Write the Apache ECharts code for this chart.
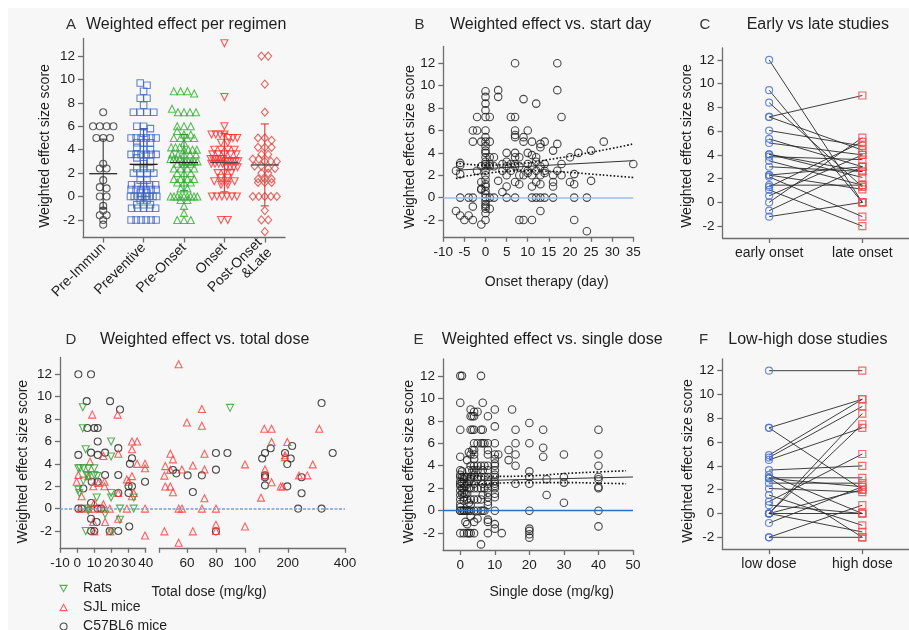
<!DOCTYPE html>
<html>
<head>
<meta charset="utf-8">
<script src="https://cdn.jsdelivr.net/npm/echarts@6/dist/echarts.min.js"></script>
<style>
  html, body { margin: 0; padding: 0; background: #fff; }
  #bg { position: absolute; left: 8px; top: 8px; width: 901px; height: 622px; background: #f7f7f7; }
  #chart { position: absolute; left: 0; top: 0; width: 909px; height: 630px; }
</style>
</head>
<body>
<div id="bg"></div>
<div id="chart"></div>
<script>
// ---- A: weighted effect per regimen ----
const regimenNames = ['Pre-Immun', 'Preventive', 'Pre-Onset', 'Onset', 'Post-Onset\n&Late'];
const preImmun = [7.2, 6, 6, 6, 6, 5, 5, 5, 2.8, 2.4, 2.4, 1.4, 0.8, 0.7, 0, 0, -0.8, -1.2, -1.6, -1.6, -2, -2.4];
const preventive = [9.7, 9.5, 9.0, 8.4, 8.4, 7.8, 7.2, 7.2, 7.2, 7.2, 6.0, 6.0, 5.8, 5.4,
  5.0, 5.0, 5.0, 5.0, 5.0, 5.0, 4.6, 4.6, 4.6, 4.2, 4.0, 4.0,
  3.6, 3.6, 3.6, 3.6, 3.6, 3.6, 3.3, 3.0, 3.0, 2.8, 2.4, 2.4, 2.4, 2.0, 2.0, 2.0, 2.0,
  1.4, 1.4, 1.0, 1.0, 1.0, 1.0, 1.0, 0.6, 0.6, 0.6, 0.6, 0.6, 0.6, 0.3, 0.3,
  0, 0, 0, 0, 0, 0, 0, 0, -0.3, -0.3, -0.7, -0.7, -0.7, -1.0, -1.0, -1.0, -1.0, -1.0,
  -2.0, -2.0, -2.0, -2.0, -2.0, -2.0];
const preOnset = [9.0, 9.0, 9.0, 8.8, 7.5, 7.2, 7.2, 7.2, 7.2, 6.0, 6.0, 6.0, 5.6, 5.3, 5.3,
  5.0, 5.0, 5.0, 5.0, 4.6, 4.2, 4.2, 4.2, 4.0, 4.0, 4.0, 4.0, 3.6, 3.6, 3.6, 3.6, 3.6,
  3.2, 3.2, 3.2, 3.2, 3.0, 3.0, 3.0, 3.0, 3.0, 3.0, 2.8, 2.8, 2.8, 2.4, 2.4, 2.4, 2.4,
  2.0, 2.0, 2.0, 1.5, 1.5, 1.5, 1.5, 1.2, 1.2, 1.2, 0.7, 0.7,
  0, 0, 0, 0, 0, 0, 0, 0, 0, -0.3, -0.3, -0.8, -1.4, -2, -2, -2];
const onset = [13.1, 8.5, 6.0, 5.3, 5.3, 5.3, 5.3, 5.0, 5.0, 5.0, 4.6, 4.6, 4.0, 4.0, 4.0, 4.0,
  3.6, 3.6, 3.6, 3.6, 3.6, 3.2, 3.2, 3.2, 3.2, 3.2, 3.2, 3.0, 3.0, 3.0, 3.0, 3.0, 3.0,
  2.8, 2.8, 2.8, 2.8, 2.5, 2.5, 2.5, 2.5, 2.0, 2.0, 2.0, 1.6, 1.6, 1.3, 1.3, 1.3, 1.3,
  1.0, 1.0, 0, 0, 0, 0, 0, 0, -2, -2];
const postOnset = [12, 12, 9.6, 7.2, 5.0, 5.0, 4.8, 4.2, 4.2, 4.2, 3.6, 3.6, 3.2, 3.2, 3.0, 3.0, 3.0,
  2.6, 2.6, 2.4, 2.4, 2.0, 2.0, 1.5, 1.5, 1.5, 1.2, 1.2, 1.2, 0, 0, 0, 0, 0, -1.2, -2, -2, -3];
const regimenMean = [1.95, 2.75, 2.9, 2.9, 2.7];
const regimenSd = [2.95, 3.05, 2.4, 2.5, 3.5];

// ---- B: weighted effect vs start day ----
const startDay = [
  [-7, 2.4], [-7, -1.2], [-6, 3.1], [-6, 2.9], [-6, 2.1], [-6, 0], [-6, -1.6], [-5, -2],
  [-4, 0], [-4, -1.6], [-3, 6], [-3, 5], [-3, 0], [-3, -0.8], [-3, -2], [-2, 7.2], [-2, 6], [-2, 2.4],
  [-1, 5], [-1, 2.8], [-1, 1.4], [-1, 0.8], [-1, 0.7], [-1, -2.4],
  [0, 9.5], [0, 9], [0, 8.4], [0, 7.8], [0, 7.2], [0, 6], [0, 5.4], [0, 5], [0, 4.6], [0, 4.2], [0, 4],
  [0, 3.6], [0, 3.2], [0, 3], [0, 2.8], [0, 2.4], [0, 2], [0, 1.6], [0, 1.2], [0, 1], [0, 0.6], [0, 0.3],
  [0, 0], [0, -0.3], [0, -0.6], [0, -0.8], [0, -1], [0, -1.4], [0, -2],
  [1, 7.2], [1, 5], [1, 3.6], [1, 3], [1, 2.8], [1, 0], [1, -1], [2, 3.6], [2, 2.8], [2, 0],
  [3, 9.6], [3, 9], [3, 1.5], [4, 3], [4, 2.4], [4, 0.5], [5, 4], [5, 3.2], [5, 2.8], [5, 2], [5, 1], [5, 0],
  [6, 7.2], [6, 3], [6, 2.4], [7, 12], [7, 7.2], [7, 6], [7, 5.6], [7, 5.4], [7, 4], [7, 3.6], [7, 3],
  [7, 2.8], [7, 1.4], [7, 0], [8, 3.6], [8, 2.8], [8, 2], [8, 1.2], [8, -2], [9, 8.8], [9, 5.4], [9, 5],
  [9, 2], [9, -2], [10, 6], [10, 4], [10, 3], [10, 2.4], [10, 2.2], [11, 5], [11, 3.8], [11, 2.8], [11, 2],
  [11, 1], [11, 0], [11, -2], [12, 8.4], [12, 3.6], [12, 3.2], [12, 2.4], [12, 1.4], [12, 0],
  [13, 4.8], [13, 4.5], [13, 2.8], [13, 2], [13, 1.2], [13, 0], [13, -1.2], [14, 5], [14, 3], [14, 2.4],
  [14, 2.2], [14, 0], [16, 4.2], [16, 2], [16, 1.4], [16, 1], [16, 0], [17, 12], [17, 9.6], [17, 4.8],
  [17, 2.4], [18, 7.2], [18, 3], [18, 2], [20, 3.6], [20, 1.4], [21, 2.1], [21, 1.2], [21, 0], [21, -2],
  [22, 4], [24, 0], [24, -3], [25, 4.2], [25, 1.5], [28, 5], [35, 3]
];
const startFitX = [-7, 35];
const startFitY = [2.45, 3.3];
const startBandX = [-7, -5, 0, 5, 10, 15, 20, 25, 30, 35];
const startBandHi = [3.1, 3.0, 2.9, 2.95, 3.1, 3.4, 3.7, 4.05, 4.4, 4.8];
const startBandLo = [1.7, 1.9, 2.15, 2.35, 2.4, 2.35, 2.25, 2.1, 1.95, 1.8];

// ---- C: early vs late (pairs: early, late) ----
const onsetGroups = ['early onset', 'late onset'];
const earlyLate = [[12.0, 0], [9.45, 0], [8.4, 1.3], [7.2, 9.0], [7.2, 4.4], [6.05, 4.75], [5.35, 3.0],
  [5.0, 4.0], [4.05, 2.1], [3.85, 3.6], [3.5, 1.45], [3.0, 2.6], [2.3, 3.0], [2.15, -1.2], [1.45, 1.45],
  [1.3, 5.1], [1.05, -2.0], [0.55, 4.0], [0, 5.45], [-0.7, 3.0], [-1.2, 0], [4.05, 2.6], [2.3, 1.1]];

// ---- D: weighted effect vs total dose (dose, score) ----
const strainNames = ['Rats', 'SJL mice', 'C57BL6 mice'];
const doseRats = [[3.3, 9.05], [3.3, 7.18], [5, 5.3], [19.8, 6.0], [19.8, 4.65], [0.7, 3.6], [1.7, 3.6],
  [3.6, 3.6], [6.5, 3.6], [10, 3.6], [5.6, 3.0], [10, 3.0], [6.5, 2.9], [11.7, 2.9], [1.2, 1.4], [0.7, 1.7],
  [3.6, 2.5], [11.4, 1.0], [19.8, 1.4], [19.8, 1.0], [6.5, 0], [25, 0], [33, 0], [16.3, -0.5], [25, -1.0],
  [5, -2.0], [19.8, -2.0], [33, 1.0], [6.5, -0.2], [89.7, 9.0]];
const doseSJL = [[8.8, 8.4], [23.6, 8.4], [32, 6], [35, 6], [32, 5.3], [35, 4.0], [39.6, 4.0], [39.6, 3.6],
  [15.3, 4.7], [24, 4.9], [7.5, 4.2], [0.7, 3.0], [-0.3, 2.4], [6.5, 2.9], [9.4, 2.0], [12.4, 2.3], [15.9, 2.0],
  [16, 2.4], [24, 1.4], [29, 2.6], [32, 2.9], [30, 2.4], [33, 1.4], [32, 1.1], [2.6, 1.1], [10, 0.5], [15.3, 0.4],
  [1.7, 0], [6.5, 0], [10, 0], [15, 0], [19, 0], [29, 0], [39.6, 0], [9.4, -1.2], [16.3, -1.2], [24, -0.9],
  [10, -2.05], [19.2, -2.05], [39.6, -2.4],
  [54.3, 12.9], [70.3, 8.9], [60, 7.7], [70.3, 7.4], [48.6, 4.9], [50.4, 4.4], [45.1, 3.8], [56.6, 3.5],
  [64.1, 3.85], [72.1, 4.9], [72.1, 3.5], [44.5, 2.95], [45.1, 1.97], [48.6, 1.97], [50.4, 1.46], [72.1, 0.92],
  [54.3, 0], [56.6, 0], [70.3, 0], [80, 0], [48.6, 3.46], [100, 3.95], [44.5, -2.03], [64.1, -2.03],
  [80, -1.44], [80, -2], [100, -1.6], [54.3, -3.05],
  [117.5, 7.14], [143, 7.14], [143, 5.95], [198, 5.95], [310, 7.14], [287, 3.95], [120, 3.5], [120, 2.97],
  [106, 0.98], [143, 2.35], [175, 1.97], [182, 1.97], [190, 4.77], [190, 4.6], [239, 2.97], [268, 2.97]];
const doseB6 = [[0.7, 12], [8.1, 12], [5.6, 9.6], [19.2, 9.6], [25, 8.85], [6, 7.2], [10, 7.2], [12, 7.2],
  [12, 6.0], [0.7, 4.8], [8.1, 5.0], [12, 4.8], [16.3, 5.0], [24, 5.4], [30.8, 4.0], [32, 4.5], [39.6, 2.4],
  [8.5, 2.4], [12, 2.4], [16.3, 3.0], [24, 3.0], [3.6, 1.8], [30, 2.0], [32, 2.0], [30, 1.4], [24, 1.4],
  [0.7, 0], [2.7, 0], [8.1, 0.5], [12, 0], [14, 0], [8.1, -0.9], [11.4, -1.2], [30.4, -1.6], [8.1, -2],
  [10, -2], [24, -2], [19, -2],
  [50.4, 3.45], [52.7, 3.15], [60.5, 2.97], [70.3, 2.97], [64.1, 1.48], [80, 4.97], [80, 3.48], [87.9, 4.97],
  [80, -2.03],
  [110, 4.48], [120, 4.97], [140, 5.39], [120, 2.97], [120, 2.8], [120, 2.08], [190, 4.97], [215, 5.6],
  [210, 4.48], [198, 3.98], [198, 1.99], [248, 2.8], [248, 1.37], [236, 0], [318, 0], [318, 9.43], [357, 4.97]];

// ---- E: weighted effect vs single dose ----
const singleDoseLevels = [0, 0.5, 1, 1.5, 2, 2.5, 3, 3.5, 4, 5, 6, 6.5, 7, 8, 10, 11, 12, 14, 15, 16, 20, 24, 25, 30, 40];
const singleDoseScores = [
  [12, 9.6, 7.2, 4.8, 3.6, 3.2, 3.0, 2.6, 2.4, 2.2, 1.8, 1.4, 1.0, 0.6, 0.3, 0, 0, -2],
  [12, 3.5, 3.0, 2.5, 2.0, 1.5, 0],
  [3.0, 2.8, 2.4, 2.0, 1.6, 1.2, 0.9, 0, 0, -2],
  [3.0, 2.2, 1.5, 0, -1.0],
  [4.5, 3.0, 2.4, 1.5, 1.0, 0, -1.2, -2],
  [5.2, 3.6, 2.6, 2.0, 0.7, 0, -2],
  [9.0, 8.4, 7.2, 5.0, 4.0, 3.0, 2.8, 2.0, 1.0, 0.5, 0, -0.5, -2],
  [8.4, 7.2, 5.4, 3.6],
  [8.8, 8.4, 7.2, 6.0, 5.4, 5.0, 4.6, 4.0, 3.6, 3.2, 3.0, 2.4, 2.0, 1.0, 0, -1.0, -2],
  [8.8, 6.0, 4.0, 3.6, 3.0, 2.8, 2.0, 1.0, 0, -0.7],
  [12, 7.2, 6.0, 4.0, 3.0, 2.0, 1.0, 0, -3],
  [9.6, 7.2, 6.0, 3.6, 2.4, 1.4, 0],
  [6.0, 4.0, 3.0, 2.0, 0],
  [8.4, 6.0, 5.4, 5.0, 4.0, 3.6, 3.0, 2.6, 2.4, 2.0, 1.6, 1.2, 0.8, 0.5, -0.8, -1.0, -2],
  [9.0, 7.5, 6.0, 5.0, 4.6, 4.2, 4.0, 3.6, 3.2, 3.0, 2.6, 2.4, 2.2, 2.0, 1.5, 1.2, 0, -1.2, -1.6],
  [5.0],
  [-2],
  [5.4, 4.5],
  [9.0],
  [7.2, 6.0, 5.0, 4.0, 2.4],
  [7.8, 6.0, 3.5, 3.0, 2.4, 0, -1.6, -1.8, -2.1, -2.4],
  [7.2, 5.6, 4.8],
  [2.8, 1.4],
  [5.0, 3.0, 2.5, 0.7],
  [7.2, 5.0, 4.0, 3.0, 2.8, 2.1, 2.0, 0, -1.4]
];
const singleFitX = [2, 50];
const singleFitY = [2.65, 3.0];
const singleBandX = [2, 10, 20, 30, 40, 48];
const singleBandHi = [3.15, 3.05, 3.1, 3.3, 3.45, 3.55];
const singleBandLo = [2.3, 2.45, 2.5, 2.5, 2.45, 2.4];

// ---- F: low vs high dose (pairs: low, high) ----
const doseGroups = ['low dose', 'high dose'];
const lowHigh = [[12, 12], [7.2, 9.6], [7.2, 2.0], [4.9, 9.6], [4.7, 9.0], [4.5, 7.2], [3.65, 4.0], [3.25, 0],
  [3.0, 3.0], [2.95, 2.25], [2.55, 2.55], [2.1, 1.8], [1.55, -1.0], [1.0, 5.0], [0.7, 0], [0, 8.4], [0, 7.5],
  [0, 2.0], [0, 0], [0, -1.55], [-0.8, 2.25], [-2, -2], [-2, 0.7], [3.0, -2]];

const yTickVals = [-2, 0, 2, 4, 6, 8, 10, 12];

// ---------------------------------------------------------------
const FONT = 'Liberation Sans, Arial, sans-serif';
const AX = '#6e6e6e';
const TXT = '#1e1e1e';

const grids = [
  { left: 83, top: 38.5, width: 202, height: 199 },      // 0 A
  { left: 443.3, top: 46.5, width: 190, height: 190.3 }, // 1 B
  { left: 722.5, top: 48, width: 190, height: 190 },     // 2 C
  { left: 60, top: 357.5, width: 85.7, height: 190.3 },  // 3 D seg1
  { left: 159.3, top: 357.5, width: 85.7, height: 190.3 }, // 4 D seg2
  { left: 259.3, top: 357.5, width: 85.7, height: 190.3 }, // 5 D seg3
  { left: 60, top: 357.5, width: 285, height: 190.3 },   // 6 D zero line overlay
  { left: 443, top: 359, width: 190, height: 191 },      // 7 E
  { left: 722.3, top: 358.8, width: 190, height: 190.4 } // 8 F
];

function yAx(gi, min, max, show) {
  return {
    type: 'value', gridIndex: gi, min: min, max: max, show: show,
    axisLine: { show: true, onZero: false, lineStyle: { color: AX, width: 1.3 } },
    axisTick: { show: true, length: 5, customValues: yTickVals, lineStyle: { color: AX, width: 1.3 } },
    axisLabel: { show: true, customValues: yTickVals, color: TXT, fontSize: 13.5, fontFamily: FONT, margin: 8 },
    splitLine: { show: false }
  };
}
function xVal(gi, min, max, extra) {
  return Object.assign({
    type: 'value', gridIndex: gi, min: min, max: max,
    axisLine: { show: true, onZero: false, lineStyle: { color: AX, width: 1.3 } },
    axisTick: { show: true, length: 5, lineStyle: { color: AX, width: 1.3 } },
    axisLabel: { color: TXT, fontSize: 13.5, fontFamily: FONT, margin: 8 },
    splitLine: { show: false }
  }, extra || {});
}
function xCat(gi, names, extra) {
  const ax = {
    type: 'category', gridIndex: gi, data: names,
    axisLine: { show: true, onZero: false, lineStyle: { color: AX, width: 1.3 } },
    axisTick: { show: true, length: 5, alignWithLabel: true, lineStyle: { color: AX, width: 1.3 } },
    axisLabel: { color: TXT, fontSize: 14, fontFamily: FONT, margin: 8, interval: 0 },
    splitLine: { show: false }
  };
  if (extra) Object.assign(ax.axisLabel, extra);
  return ax;
}

// GraphPad-like horizontal spreading of points sharing a similar score
function spread(vals, idx) {
  const order = vals.map((v, i) => i).sort((a, b) => vals[b] - vals[a]);
  const rows = [];
  order.forEach(i => {
    const r = rows[rows.length - 1];
    if (r && Math.abs(vals[r[0]] - vals[i]) < 0.3) r.push(i); else rows.push([i]);
  });
  const out = [];
  rows.forEach(r => {
    const step = Math.min(6.8, 30 / r.length);
    r.forEach((i, k) => out.push({ value: [idx, vals[i]], symbolOffset: [(k - (r.length - 1) / 2) * step, 0] }));
  });
  return out;
}

function hollow(color, w) {
  return { color: 'rgba(0,0,0,0)', borderColor: color, borderWidth: w || 1.1 };
}

const regimenData = [preImmun, preventive, preOnset, onset, postOnset];
const regimenSymbols = ['circle', 'rect', 'triangle', 'triangle', 'diamond'];
const regimenSizes = [7, 6.5, 7, 7, [7, 8]];
const regimenRot = [0, 0, 0, 180, 0];
const regimenColors = ['#3a3a3a', '#3f66c4', '#2fae2f', '#ff2e2e', '#e2413b'];
const barColors = ['#3a3a3a', '#2f57b3', '#2a9a2a', '#e83030', '#d83a3a'];
const meanColors = ['#2a2a2a', '#1f1f1f', '#1f1f1f', '#4a4a4a', '#4a4a4a'];

const series = [];

// A
regimenData.forEach((vals, i) => {
  series.push({
    type: 'scatter', xAxisIndex: 0, yAxisIndex: 0, symbol: regimenSymbols[i], symbolSize: regimenSizes[i],
    symbolRotate: regimenRot[i], itemStyle: hollow(regimenColors[i]), data: spread(vals, i), z: 3
  });
});
series.push({
  type: 'custom', xAxisIndex: 0, yAxisIndex: 0, z: 5,
  data: regimenMean.map((m, i) => [i, m, regimenSd[i]]),
  encode: { x: 0, y: 1 },
  renderItem: function (params, api) {
    const i = params.dataIndex;
    const m = api.value(1), s = api.value(2);
    const c = api.coord([i, m]), t = api.coord([i, m + s]), b = api.coord([i, m - s]);
    const col = barColors[i];
    return {
      type: 'group', children: [
        { type: 'line', shape: { x1: c[0], y1: t[1], x2: c[0], y2: b[1] }, style: { stroke: col, lineWidth: 1.1 } },
        { type: 'line', shape: { x1: c[0] - 4, y1: t[1], x2: c[0] + 4, y2: t[1] }, style: { stroke: col, lineWidth: 1.1 } },
        { type: 'line', shape: { x1: c[0] - 4, y1: b[1], x2: c[0] + 4, y2: b[1] }, style: { stroke: col, lineWidth: 1.1 } },
        { type: 'line', shape: { x1: c[0] - 14, y1: c[1], x2: c[0] + 14, y2: c[1] }, style: { stroke: meanColors[i], lineWidth: 1.3 } }
      ]
    };
  }
});

// B
series.push({
  type: 'scatter', xAxisIndex: 1, yAxisIndex: 1, symbol: 'circle', symbolSize: 7.5,
  itemStyle: hollow('#1a1a1a', 1.1), data: startDay, z: 3,
  markLine: { silent: true, symbol: 'none', label: { show: false }, lineStyle: { color: '#a3bce6', width: 1.6, type: 'solid' }, data: [{ yAxis: 0 }] }
});
series.push({ type: 'line', xAxisIndex: 1, yAxisIndex: 1, symbol: 'none', z: 4,
  lineStyle: { color: '#333', width: 1 }, data: startFitX.map((x, i) => [x, startFitY[i]]) });
series.push({ type: 'line', xAxisIndex: 1, yAxisIndex: 1, symbol: 'none', smooth: true, z: 4,
  lineStyle: { color: '#111', width: 1.6, type: [1.6, 2] }, data: startBandX.map((x, i) => [x, startBandHi[i]]) });
series.push({ type: 'line', xAxisIndex: 1, yAxisIndex: 1, symbol: 'none', smooth: true, z: 4,
  lineStyle: { color: '#111', width: 1.6, type: [1.6, 2] }, data: startBandX.map((x, i) => [x, startBandLo[i]]) });

// C and F paired plots
function pairSeries(gi, pairs, colL, colR) {
  series.push({
    type: 'custom', xAxisIndex: gi, yAxisIndex: gi, z: 2,
    data: pairs.map(p => [0, p[0], p[1]]), encode: { x: 0, y: [1, 2] },
    renderItem: function (params, api) {
      const a = api.coord([0, api.value(1)]), b = api.coord([1, api.value(2)]);
      return { type: 'line', shape: { x1: a[0], y1: a[1], x2: b[0], y2: b[1] }, style: { stroke: '#2a2a2a', lineWidth: 0.9 } };
    }
  });
  series.push({ type: 'scatter', xAxisIndex: gi, yAxisIndex: gi, symbol: 'circle', symbolSize: 7, z: 3,
    itemStyle: hollow(colL, 1.2), data: pairs.map(p => [0, p[0]]) });
  series.push({ type: 'scatter', xAxisIndex: gi, yAxisIndex: gi, symbol: 'rect', symbolSize: 7, z: 3,
    itemStyle: hollow(colR, 1.2), data: pairs.map(p => [1, p[1]]) });
}
pairSeries(2, earlyLate, '#4a72c8', '#f04a4a');
pairSeries(8, lowHigh, '#4a72c8', '#f04a4a');

// D
const strainData = [doseRats, doseSJL, doseB6];
const strainSym = ['triangle', 'triangle', 'circle'];
const strainRot = [180, 0, 0];
const strainColors = ['#2f9e2f', '#ff3a3a', '#222222'];
const segRanges = [[-Infinity, 40], [40, 100], [100, Infinity]];
strainData.forEach((pts, s) => {
  segRanges.forEach((r, k) => {
    const seg = pts.filter(p => p[0] > r[0] && p[0] <= r[1]);
    series.push({
      name: strainNames[s], type: 'scatter', xAxisIndex: 3 + k, yAxisIndex: 3 + k,
      symbol: strainSym[s], symbolRotate: strainRot[s], symbolSize: 7, z: 3 + (2 - s),
      itemStyle: hollow(strainColors[s], 1.1), data: seg
    });
  });
});
series.push({
  type: 'line', xAxisIndex: 6, yAxisIndex: 6, data: [], z: 1,
  markLine: { silent: true, symbol: 'none', label: { show: false }, lineStyle: { color: '#7d9ddb', width: 1.5, type: [3, 1.5] }, data: [{ yAxis: 0 }] }
});

// E
const singlePts = [];
singleDoseLevels.forEach((x, i) => singleDoseScores[i].forEach(y => singlePts.push([x, y])));
series.push({
  type: 'scatter', xAxisIndex: 7, yAxisIndex: 7, symbol: 'circle', symbolSize: 7.5,
  itemStyle: hollow('#1a1a1a', 1.1), data: singlePts, z: 3,
  markLine: { silent: true, symbol: 'none', label: { show: false }, lineStyle: { color: '#2f6ec6', width: 1.3, type: 'solid' }, data: [{ yAxis: 0 }] }
});
series.push({ type: 'line', xAxisIndex: 7, yAxisIndex: 7, symbol: 'none', z: 4,
  lineStyle: { color: '#333', width: 1 }, data: singleFitX.map((x, i) => [x, singleFitY[i]]) });
series.push({ type: 'line', xAxisIndex: 7, yAxisIndex: 7, symbol: 'none', smooth: true, z: 4,
  lineStyle: { color: '#111', width: 1.6, type: [1.6, 2] }, data: singleBandX.map((x, i) => [x, singleBandHi[i]]) });
series.push({ type: 'line', xAxisIndex: 7, yAxisIndex: 7, symbol: 'none', smooth: true, z: 4,
  lineStyle: { color: '#111', width: 1.6, type: [1.6, 2] }, data: singleBandX.map((x, i) => [x, singleBandLo[i]]) });

const xAxes = [
  xCat(0, regimenNames, { rotate: 45, margin: 8 }),
  xVal(1, -10, 35, { interval: 5 }),
  xCat(2, onsetGroups),
  xVal(3, -10, 40, { interval: 10 }),
  xVal(4, 41, 100, { axisTick: { show: true, length: 5, customValues: [41, 60, 80, 100], lineStyle: { color: AX, width: 1.3 } },
    axisLabel: { customValues: [60, 80, 100], color: TXT, fontSize: 13.5, fontFamily: FONT, margin: 8 } }),
  xVal(5, 100, 400, { axisTick: { show: true, length: 5, customValues: [100, 200, 400], lineStyle: { color: AX, width: 1.3 } },
    axisLabel: { customValues: [200, 400], color: TXT, fontSize: 13.5, fontFamily: FONT, margin: 8 } }),
  { type: 'value', gridIndex: 6, min: 0, max: 1, show: false },
  xVal(7, -5, 50, { axisTick: { show: true, length: 5, customValues: [0, 10, 20, 30, 40, 50], lineStyle: { color: AX, width: 1.3 } },
    axisLabel: { customValues: [0, 10, 20, 30, 40, 50], color: TXT, fontSize: 13.5, fontFamily: FONT, margin: 8 } }),
  xCat(8, doseGroups)
];
const yAxes = [
  yAx(0, -3.5, 13.5, true), yAx(1, -3.5, 13.5, true), yAx(2, -3, 13, true),
  yAx(3, -3.5, 13.5, true), yAx(4, -3.5, 13.5, false), yAx(5, -3.5, 13.5, false), yAx(6, -3.5, 13.5, false),
  yAx(7, -3.5, 13.5, true), yAx(8, -3, 13, true)
];

function txt(x, y, s, size, align, rot, color) {
  return { type: 'text', x: x, y: y, rotation: rot || 0, silent: true,
    style: { text: s, fill: color || TXT, fontSize: size, fontFamily: FONT, align: align || 'center', verticalAlign: 'middle' } };
}
const graphics = [
  txt(71, 24.5, 'A', 15, 'center', 0, '#333'), txt(86, 24.5, 'Weighted effect per regimen', 16, 'left'),
  txt(419.5, 24.5, 'B', 15, 'center', 0, '#333'), txt(450, 24.5, 'Weighted effect vs. start day', 16, 'left'),
  txt(705, 24.5, 'C', 15, 'center', 0, '#333'), txt(746.7, 24.5, 'Early vs late studies', 16, 'left'),
  txt(71, 339.5, 'D', 15, 'center', 0, '#333'), txt(100, 339.5, 'Weighted effect vs. total dose', 16, 'left'),
  txt(418.5, 339.5, 'E', 15, 'center', 0, '#333'), txt(441.7, 339.5, 'Weighted effect vs. single dose', 16, 'left'),
  txt(703.5, 339.5, 'F', 15, 'center', 0, '#333'), txt(728.3, 339.5, 'Low-high dose studies', 16, 'left'),
  txt(45, 146, 'Weighted effect size score', 14, 'center', Math.PI / 2),
  txt(410, 147, 'Weighted effect size score', 14, 'center', Math.PI / 2),
  txt(686.7, 146, 'Weighted effect size score', 14, 'center', Math.PI / 2),
  txt(23, 461.7, 'Weighted effect size score', 14, 'center', Math.PI / 2),
  txt(409, 461.7, 'Weighted effect size score', 14, 'center', Math.PI / 2),
  txt(688, 461, 'Weighted effect size score', 14, 'center', Math.PI / 2),
  txt(546.7, 281.7, 'Onset therapy (day)', 14),
  txt(209, 591.7, 'Total dose (mg/kg)', 14),
  txt(551.7, 591.7, 'Single dose (mg/kg)', 14)
];

// legend icons drawn as outlines in the series colours
const legendIcons = ['path://M0,0L10,0L5,9Z', 'path://M5,0L10,9L0,9Z', 'circle'];

const chart = echarts.init(document.getElementById('chart'), null, { renderer: 'canvas' });
chart.setOption({
  animation: false,
  backgroundColor: 'transparent',
  textStyle: { fontFamily: FONT },
  grid: grids,
  xAxis: xAxes,
  yAxis: yAxes,
  legend: {
    data: strainNames.map((n, i) => ({ name: n, icon: legendIcons[i] })),
    orient: 'vertical', left: 59.5, top: 581.5, height: 80, padding: 0,
    itemWidth: 7, itemHeight: 7, itemGap: 5, selectedMode: false, symbolRotate: 0,
    itemStyle: { color: 'rgba(0,0,0,0)', borderColor: 'inherit', borderWidth: 1.1 },
    textStyle: { fontSize: 14, color: TXT, fontFamily: FONT, padding: [0, 0, 0, 11] }
  },
  graphic: graphics,
  series: series
});
</script>
</body>
</html>
